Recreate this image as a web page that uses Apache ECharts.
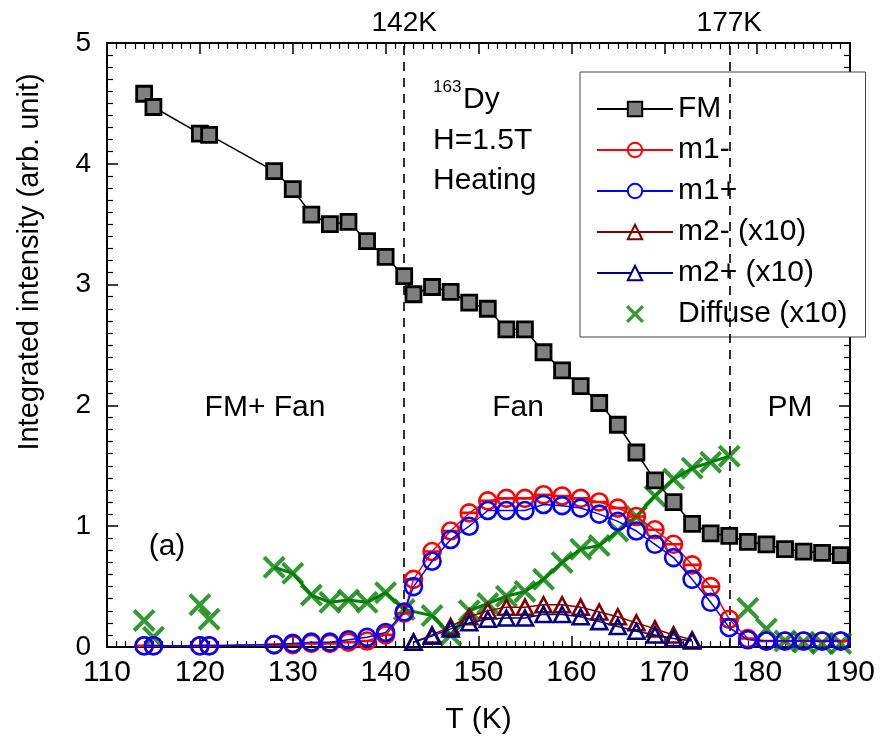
<!DOCTYPE html>
<html>
<head>
<meta charset="utf-8">
<script src="https://cdn.jsdelivr.net/npm/echarts@6/dist/echarts.min.js"></script>
<style>html,body{margin:0;padding:0;background:#fff}#c{width:883px;height:755px}</style>
</head>
<body>
<div id="c"></div>
<script>
// ---- data ----
const fmT = [114,115,120,121,128,130,132,134,136,138,140,142,143,145,147,149,151,153,155,157,159,161,163,165,167,169,171,173,175,177,179,181,183,185,187,189];
const fmV = [4.58,4.47,4.25,4.24,3.94,3.79,3.58,3.50,3.52,3.36,3.23,3.07,2.92,2.98,2.94,2.85,2.80,2.63,2.63,2.44,2.29,2.16,2.02,1.84,1.61,1.38,1.20,1.02,0.94,0.92,0.87,0.85,0.81,0.79,0.78,0.76];

const m1T = [114,115,120,121,128,130,132,134,136,138,140,142,143,145,147,149,151,153,155,157,159,161,163,165,167,169,171,173,175,177,179,181,183,185,187,189];
const m1minusV = [0.01,0.01,0.01,0.01,0.02,0.02,0.03,0.03,0.04,0.05,0.10,0.28,0.56,0.79,0.96,1.11,1.21,1.23,1.23,1.26,1.25,1.23,1.20,1.15,1.08,0.97,0.85,0.68,0.50,0.23,0.07,0.05,0.05,0.05,0.05,0.05];
const m1plusV  = [0.01,0.01,0.01,0.01,0.02,0.03,0.04,0.04,0.06,0.08,0.12,0.29,0.50,0.71,0.89,1.00,1.13,1.13,1.13,1.18,1.17,1.15,1.10,1.04,0.96,0.85,0.74,0.56,0.37,0.16,0.06,0.05,0.05,0.05,0.05,0.05];

const m2T = [143,145,147,149,151,153,155,157,159,161,163,165,167,169,171,173];
const m2minusV = [0.04,0.10,0.17,0.25,0.30,0.33,0.33,0.35,0.35,0.33,0.29,0.25,0.20,0.15,0.10,0.06];
const m2plusV  = [0.04,0.09,0.15,0.20,0.23,0.24,0.24,0.27,0.27,0.25,0.21,0.17,0.13,0.10,0.07,0.05];

const diffT = [114,115,120,121,128,130,132,134,136,138,140,142,145,147,149,151,153,155,157,159,161,163,165,167,169,171,173,175,177,179,181,183,185,187,189];
const diffV = [0.22,0.08,0.35,0.23,0.66,0.61,0.43,0.37,0.39,0.37,0.45,0.31,0.26,0.10,0.30,0.36,0.42,0.46,0.56,0.70,0.81,0.84,0.96,1.08,1.25,1.39,1.48,1.53,1.58,0.32,0.15,0.05,0.04,0.03,0.03];
const diffLineRange = [128,177];

const transitionT = [142,177];
const xTicks = [110,120,130,140,150,160,170,180,190];
const yTicks = [0,1,2,3,4,5];

const seriesNames = ['FM','m1-','m1+','m2- (x10)','m2+ (x10)','Diffuse (x10)'];

// ---- helpers ----
const pairs = (xs, ys) => xs.map((x,i)=>[x, ys[i]]);
const SANS = '"Liberation Sans", Arial, sans-serif';
const CIRCLE = 'path://M10,0A10,10,0,1,1,10,20A10,10,0,1,1,10,0Z';
const CIRCLE_BAR = 'path://M10,0A10,10,0,1,1,10,20A10,10,0,1,1,10,0ZM0,10L20,10';
const TRI = 'path://M10,0L20,18L0,18Z';
const XMARK = 'path://M3,0L12,9L21,0L24,3L15,12L24,21L21,24L12,15L3,24L0,21L9,12L0,3Z';

const chart = echarts.init(document.getElementById('c'), null, {renderer:'canvas'});

const xBase = {
  type:'value', min:xTicks[0], max:xTicks[xTicks.length-1], interval:xTicks[1]-xTicks[0],
  splitLine:{show:false},
  axisLine:{show:true, onZero:false, lineStyle:{color:'#000', width:2}},
  axisTick:{show:true, inside:true, length:11, lineStyle:{color:'#000', width:1.5}},
  minorTick:{show:true, splitNumber:10, length:6, lineStyle:{color:'#000', width:1.2}},
};
const yBase = {
  type:'value', min:yTicks[0], max:yTicks[yTicks.length-1], interval:yTicks[1]-yTicks[0],
  splitLine:{show:false},
  axisLine:{show:true, onZero:false, lineStyle:{color:'#000', width:2}},
  axisTick:{show:true, inside:true, length:11, lineStyle:{color:'#000', width:1.5}},
  minorTick:{show:true, splitNumber:10, length:6, lineStyle:{color:'#000', width:1.2}},
};

const text = (x, y, t, size, align, extra) => Object.assign({type:'text', x:x, y:y,
  style:{text:t, font:size+'px '+SANS, fill:'#000', align:align, verticalAlign:'middle'}}, extra||{});

const option = {
  animation:false,
  backgroundColor:'#fff',
  grid:{left:107, right:33, top:43, bottom:108, containLabel:false},
  xAxis:[
    Object.assign({}, xBase, {position:'bottom',
      axisLabel:{show:true, fontFamily:SANS, fontSize:30, color:'#000', margin:11},
      name:'T (K)', nameLocation:'middle', nameGap:58,
      nameTextStyle:{fontFamily:SANS, fontSize:30, color:'#000'}}),
    Object.assign({}, xBase, {position:'top', axisLabel:{show:false}})
  ],
  yAxis:[
    Object.assign({}, yBase, {position:'left',
      axisLabel:{show:true, fontFamily:SANS, fontSize:28, color:'#000', margin:16}}),
    Object.assign({}, yBase, {position:'right', axisLabel:{show:false}})
  ],
  legend:{
    orient:'vertical', left:580, top:72,
    padding:[22,18,8,16], itemGap:11, itemWidth:76, itemHeight:18,
    borderColor:'#444', borderWidth:1, backgroundColor:'#fff',
    textStyle:{fontFamily:SANS, fontSize:30, color:'#000', lineHeight:30},
    data:[
      {name:seriesNames[0]},
      {name:seriesNames[1]},
      {name:seriesNames[2], itemStyle:{color:'#fff'}},
      {name:seriesNames[3]},
      {name:seriesNames[4], itemStyle:{color:'#fff'}},
      {name:seriesNames[5], icon:XMARK}
    ]
  },
  graphic:[
    text(30, 262, 'Integrated intensity (arb. unit)', 29, 'center', {rotation:Math.PI/2}),
    text(433, 87, '163', 17, 'left'),
    text(463, 100, 'Dy', 30, 'left'),
    text(433, 141, 'H=1.5T', 30, 'left'),
    text(433, 181, 'Heating', 30, 'left'),
    text(265, 408, 'FM+ Fan', 30, 'center'),
    text(518, 408, 'Fan', 30, 'center'),
    text(790, 408, 'PM', 30, 'center'),
    text(167, 547, '(a)', 30, 'center')
  ],
  series:[
    {
      name:'diffuse-line', type:'line', silent:true, legendHoverLink:false,
      data:pairs(diffT, diffV).filter(p=>p[0]>=diffLineRange[0] && p[0]<=diffLineRange[1]),
      showSymbol:false, symbol:'none',
      lineStyle:{color:'#008000', width:3}, z:2,
      markLine:{
        silent:true, symbol:['none','none'],
        lineStyle:{color:'#000', type:[9,7], width:1.6},
        label:{show:true, position:'end', distance:6, formatter:p=>p.value+'K',
               fontFamily:SANS, fontSize:28, color:'#000'},
        data:transitionT.map(t=>({xAxis:t}))
      }
    },
    {
      name:seriesNames[5], type:'scatter', data:pairs(diffT, diffV),
      symbol:XMARK, symbolSize:23,
      itemStyle:{color:'#008000'}, z:3
    },
    {
      name:seriesNames[3], type:'line', data:pairs(m2T, m2minusV),
      symbol:TRI, symbolSize:[16,15], showAllSymbol:true,
      itemStyle:{color:'rgba(0,0,0,0)', borderColor:'#800000', borderWidth:2.6},
      lineStyle:{color:'#800000', width:1.5}, z:4
    },
    {
      name:seriesNames[4], type:'line', data:pairs(m2T, m2plusV),
      symbol:TRI, symbolSize:[16,15], showAllSymbol:true,
      itemStyle:{color:'rgba(0,0,0,0)', borderColor:'#000080', borderWidth:2.6},
      lineStyle:{color:'#000080', width:1.5}, z:5
    },
    {
      name:seriesNames[1], type:'line', data:pairs(m1T, m1minusV),
      symbol:CIRCLE_BAR, symbolSize:17, showAllSymbol:true,
      itemStyle:{color:'rgba(0,0,0,0)', borderColor:'#ff0000', borderWidth:2.6},
      lineStyle:{color:'#ff0000', width:1.5}, z:6
    },
    {
      name:seriesNames[2], type:'line', data:pairs(m1T, m1plusV),
      symbol:CIRCLE, symbolSize:17, showAllSymbol:true,
      itemStyle:{color:'rgba(0,0,0,0)', borderColor:'#0000ff', borderWidth:2.6},
      lineStyle:{color:'#0000ff', width:1.5}, z:7
    },
    {
      name:seriesNames[0], type:'line', data:pairs(fmT, fmV),
      symbol:'rect', symbolSize:15, showAllSymbol:true,
      itemStyle:{color:'#808080', borderColor:'#000', borderWidth:2.8},
      lineStyle:{color:'#000', width:1.5}, z:8
    }
  ]
};
chart.setOption(option);
</script>
</body>
</html>
